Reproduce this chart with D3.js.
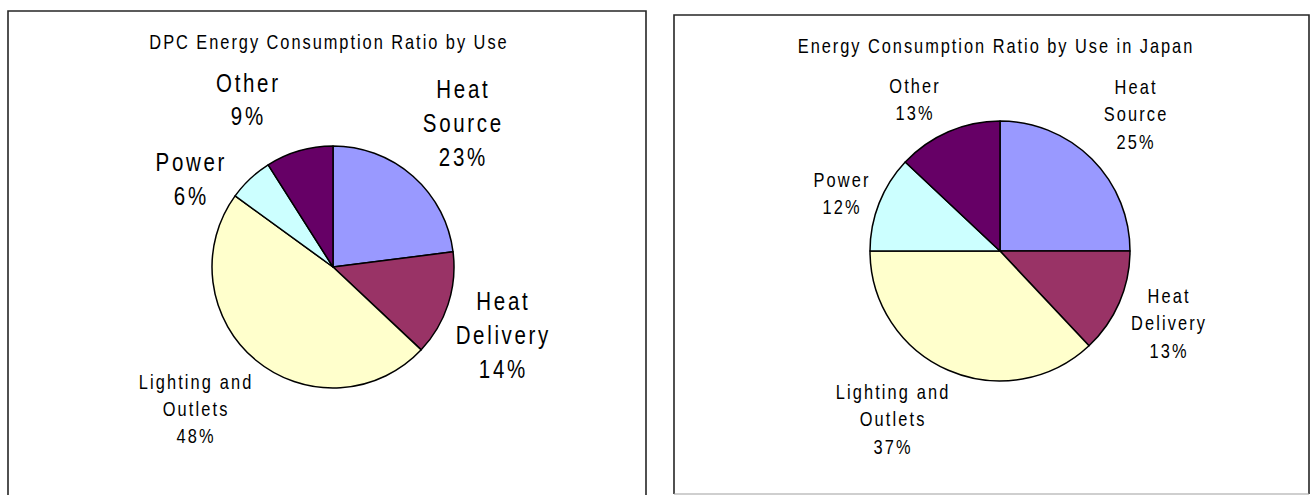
<!DOCTYPE html>
<html>
<head>
<meta charset="utf-8">
<script src="https://cdn.jsdelivr.net/npm/d3@7/dist/d3.min.js"></script>
<style>
  html, body { margin: 0; padding: 0; background: #fff; }
  svg { display: block; }
  text { font-family: "Liberation Sans", Arial, sans-serif; fill: #000; }
</style>
</head>
<body>
<svg id="chart" width="1316" height="495"></svg>
<script>
// Energy use categories, in clockwise order from 12 o'clock
const categories = ["Heat Source", "Heat Delivery", "Lighting and Outlets", "Power", "Other"];
// Label text broken into lines
const labelLines = [["Heat", "Source"], ["Heat", "Delivery"], ["Lighting and", "Outlets"], ["Power"], ["Other"]];
// Percent shares
const dpcValues = [23, 14, 48, 6, 9];
const japanValues = [25, 13, 37, 12, 13];
const titles = ["DPC Energy Consumption Ratio by Use", "Energy Consumption Ratio by Use in Japan"];

const sliceColors = ["#9999FF", "#993366", "#FFFFCC", "#CCFFFF", "#660066"];

const svg = d3.select("#chart");
const color = d3.scaleOrdinal().domain(categories).range(sliceColors);

// Condensed lettering: glyphs squeezed horizontally, then spaced out
const SQUEEZE = 0.82;

// Panel layout: frame, title, pie and label placement (offsets from pie centre)
const panels = [
  {
    values: dpcValues, title: titles[0],
    frame: { x: 8, y: 11, w: 638, h: 500 }, bottomStroke: null,
    titleX: 328, titleY: 42, titleSize: 20,
    cx: 333, cy: 267, r: 121,
    labels: [
      { dx: 129, dy: -144, size: 25, lh: 34 },
      { dx: 169, dy: 68, size: 25, lh: 34 },
      { dx: -138, dy: 142, size: 20, lh: 27 },
      { dx: -143, dy: -88, size: 25, lh: 34 },
      { dx: -86, dy: -167.5, size: 25, lh: 34 }
    ]
  },
  {
    values: japanValues, title: titles[1],
    frame: { x: 674, y: 15, w: 635, h: 479 }, bottomStroke: "#a0a0a0",
    titleX: 995, titleY: 46, titleSize: 20,
    cx: 1000, cy: 251, r: 130,
    labels: [
      { dx: 135, dy: -137, size: 20, lh: 27.5 },
      { dx: 168, dy: 72, size: 20, lh: 27.5 },
      { dx: -108, dy: 168, size: 20, lh: 27.5 },
      { dx: -159, dy: -57.5, size: 20, lh: 27.5 },
      { dx: -86, dy: -151.5, size: 20, lh: 27.5 }
    ]
  }
];

const pie = d3.pie().sort(null).value(d => d.value);

// Centered, condensed multi-line text block around (x, y)
function textBlock(parent, x, y, lines, size, lh, spacingEm) {
  const sp = size * spacingEm;
  const t = parent.append("text")
    .attr("transform", `translate(${x + sp * SQUEEZE / 2},${y}) scale(${SQUEEZE},1)`)
    .attr("text-anchor", "middle")
    .style("font-size", size + "px")
    .style("letter-spacing", sp + "px");
  const n = lines.length;
  lines.forEach((ln, k) => {
    t.append("tspan")
      .attr("x", 0)
      .attr("y", (k - (n - 1) / 2) * lh + size * 0.36)
      .text(ln);
  });
  return t;
}

panels.forEach(p => {
  const g = svg.append("g");
  const f = p.frame;

  // Frame: top, left, right in dark grey; optional lighter bottom edge
  g.append("path")
    .attr("d", `M${f.x},${f.y + f.h} V${f.y} H${f.x + f.w} V${f.y + f.h}`)
    .attr("fill", "none").attr("stroke", "#262626").attr("stroke-width", 1.6);
  if (p.bottomStroke) {
    g.append("line")
      .attr("x1", f.x).attr("x2", f.x + f.w)
      .attr("y1", f.y + f.h).attr("y2", f.y + f.h)
      .attr("stroke", p.bottomStroke).attr("stroke-width", 1.2);
  }

  // Title
  textBlock(g, p.titleX, p.titleY, [p.title], p.titleSize, 0, 0.12);

  const data = categories.map((c, i) => ({ category: c, value: p.values[i], lines: labelLines[i] }));
  const arcs = pie(data);
  const arc = d3.arc().innerRadius(0).outerRadius(p.r);

  const pieG = g.append("g").attr("transform", `translate(${p.cx},${p.cy})`);
  pieG.selectAll("path.slice")
    .data(arcs)
    .join("path")
    .attr("class", "slice")
    .attr("d", arc)
    .attr("fill", d => color(d.data.category))
    .attr("stroke", "#000")
    .attr("stroke-width", 1.5)
    .attr("stroke-linejoin", "round");

  // Data labels: category lines followed by percentage
  arcs.forEach((a, i) => {
    const L = p.labels[i];
    textBlock(pieG, L.dx, L.dy, a.data.lines.concat([a.data.value + "%"]), L.size, L.lh, 0.13);
  });
});
</script>
</body>
</html>
